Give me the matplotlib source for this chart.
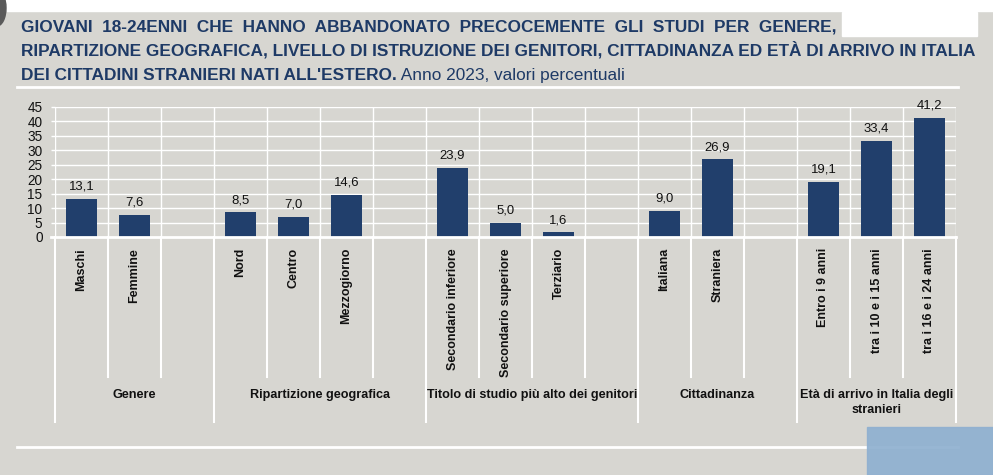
import matplotlib
matplotlib.use("Agg")
import matplotlib.pyplot as plt
from matplotlib import font_manager
from matplotlib.patches import Rectangle, Ellipse
import numpy as np

# --- dati (Anno 2023, valori percentuali) ---
gruppi = ["Genere", "Ripartizione geografica", "Titolo di studio più alto dei genitori",
          "Cittadinanza", "Età di arrivo in Italia degli\nstranieri"]
cat_genere = ["Maschi", "Femmine"]
val_genere = [13.1, 7.6]
cat_ripartizione = ["Nord", "Centro", "Mezzogiorno"]
val_ripartizione = [8.5, 7.0, 14.6]
cat_titolo = ["Secondario inferiore", "Secondario superiore", "Terziario"]
val_titolo = [23.9, 5.0, 1.6]
cat_cittadinanza = ["Italiana", "Straniera"]
val_cittadinanza = [9.0, 26.9]
cat_eta = ["Entro i 9 anni", "tra i 10 e i 15 anni", "tra i 16 e i 24 anni"]
val_eta = [19.1, 33.4, 41.2]
y_ticks = [0, 5, 10, 15, 20, 25, 30, 35, 40, 45]

categorie = [cat_genere, cat_ripartizione, cat_titolo, cat_cittadinanza, cat_eta]
valori = [val_genere, val_ripartizione, val_titolo, val_cittadinanza, val_eta]

# font: Arial Narrow -> Liberation Sans Narrow se presente, altrimenti Liberation Sans
nomi = {f.name for f in font_manager.fontManager.ttflist}
if "Liberation Sans Narrow" in nomi:
    FONT = "Liberation Sans Narrow"
    scala = 1.0
else:
    FONT = "Liberation Sans"
    scala = 0.82
plt.rcParams["font.family"] = [FONT, "DejaVu Sans"]

SFONDO = "#d7d6d1"
BLU_BARRE = "#213f6c"
BLU_TITOLO = "#1e3a66"

W, H = 993, 475
fig = plt.figure(figsize=(W / 100, H / 100), dpi=100, facecolor=SFONDO)


def fx(px):
    return px / W


def fy(py):
    return 1 - py / H


# posizioni: ogni gruppo ha le sue categorie + uno slot vuoto (tranne l'ultimo)
pos, etichette, vals, confini_gruppo, centri_gruppo = [], [], [], [-0.5], []
i = 0
for g, (cats, vs) in enumerate(zip(categorie, valori)):
    start = i
    for c, v in zip(cats, vs):
        pos.append(i)
        etichette.append(c)
        vals.append(v)
        i += 1
    if g < len(categorie) - 1:
        i += 1  # slot vuoto
    confini_gruppo.append(i - 0.5)
    centri_gruppo.append((start - 0.5 + i - 0.5) / 2)
n_slot = i

ax = fig.add_axes((fx(55), fy(237), fx(956) - fx(55), fy(107) - fy(237)))
ax.set_facecolor(SFONDO)
ax.set_xlim(-0.5, n_slot - 0.5)
ax.set_ylim(0, 45)

# griglia bianca
for y in y_ticks[1:]:
    ax.axhline(y, color="white", lw=1.0, zorder=1)
for b in np.arange(-0.5, n_slot, 1.0):
    ax.axvline(b, color="white", lw=1.0, zorder=1)

ax.bar(pos, vals, width=0.6, color=BLU_BARRE, zorder=3)
for x, v in zip(pos, vals):
    ax.annotate(f"{v:.1f}".replace(".", ","), (x, v), xytext=(0, 4.5),
                textcoords="offset points", ha="center", va="bottom",
                fontsize=11.5 * scala, color="#111111")

for s in ax.spines.values():
    s.set_visible(False)
ax.axhline(0, color="white", lw=2.0, zorder=4, xmin=-0.004, clip_on=False)

ax.set_yticks(y_ticks)
ax.set_yticklabels([str(t) for t in y_ticks], fontsize=12 * scala, color="#111111")
ax.tick_params(axis="y", length=3, width=1, color="white", pad=6)
ax.set_xticks(pos)
ax.set_xticklabels(etichette, rotation=90, fontsize=11 * scala, fontweight="bold",
                   color="#111111")
ax.tick_params(axis="x", length=0, pad=8)

# linee di separazione sotto l'asse
trans = ax.get_xaxis_transform()
y_corto = (237 - 377) / 130
y_lungo = (237 - 422) / 130
for b in np.arange(-0.5, n_slot, 1.0):
    fondo = y_lungo if b in confini_gruppo else y_corto
    ax.plot([b, b], [0, fondo], color="white", lw=1.5, transform=trans, clip_on=False)
for c, nome in zip(centri_gruppo, gruppi):
    ax.text(c, (237 - 389) / 130, nome, transform=trans, ha="center", va="top",
            fontsize=11.1 * scala, fontweight="bold", color="#111111", linespacing=1.35)

# decorazioni di pagina
fig.patches.append(Rectangle((0, fy(11)), 1, 1 - fy(11), transform=fig.transFigure,
                             color="white", zorder=0))
fig.patches.append(Ellipse((fx(-3), fy(8)), fx(18), 36 / H, transform=fig.transFigure,
                           color="#5a5a5a", zorder=1))
fig.patches.append(Rectangle((fx(842), fy(36)), fx(977) - fx(842), fy(12) - fy(36),
                             transform=fig.transFigure, color="white", zorder=2))
fig.lines.append(plt.Line2D([fx(17), fx(958)], [fy(87), fy(87)], transform=fig.transFigure,
                            color="white", lw=2))
fig.lines.append(plt.Line2D([fx(17), fx(958)], [fy(447), fy(447)], transform=fig.transFigure,
                            color="white", lw=2))
fig.patches.append(Rectangle((fx(867), 0), 1 - fx(867), fy(427), transform=fig.transFigure,
                             color="#8fb0d0", alpha=0.92, zorder=5))

# titolo
ts = 15.2 * scala
fig.text(fx(21), fy(31), "GIOVANI  18-24ENNI  CHE  HANNO  ABBANDONATO  PRECOCEMENTE  GLI  STUDI  PER  GENERE,",
         fontsize=ts, fontweight="bold", color=BLU_TITOLO, va="baseline")
fig.text(fx(21), fy(56), "RIPARTIZIONE GEOGRAFICA, LIVELLO DI ISTRUZIONE DEI GENITORI, CITTADINANZA ED ETÀ DI ARRIVO IN ITALIA",
         fontsize=ts, fontweight="bold", color=BLU_TITOLO, va="baseline")
t3 = fig.text(fx(21), fy(80), "DEI CITTADINI STRANIERI NATI ALL'ESTERO.",
              fontsize=ts, fontweight="bold", color=BLU_TITOLO, va="baseline")
ax.annotate(" Anno 2023, valori percentuali", xy=(1, 0), xycoords=t3, ha="left", va="bottom",
            fontsize=ts, color=BLU_TITOLO, annotation_clip=False)

fig.savefig("out.png", dpi=100, facecolor=SFONDO)
